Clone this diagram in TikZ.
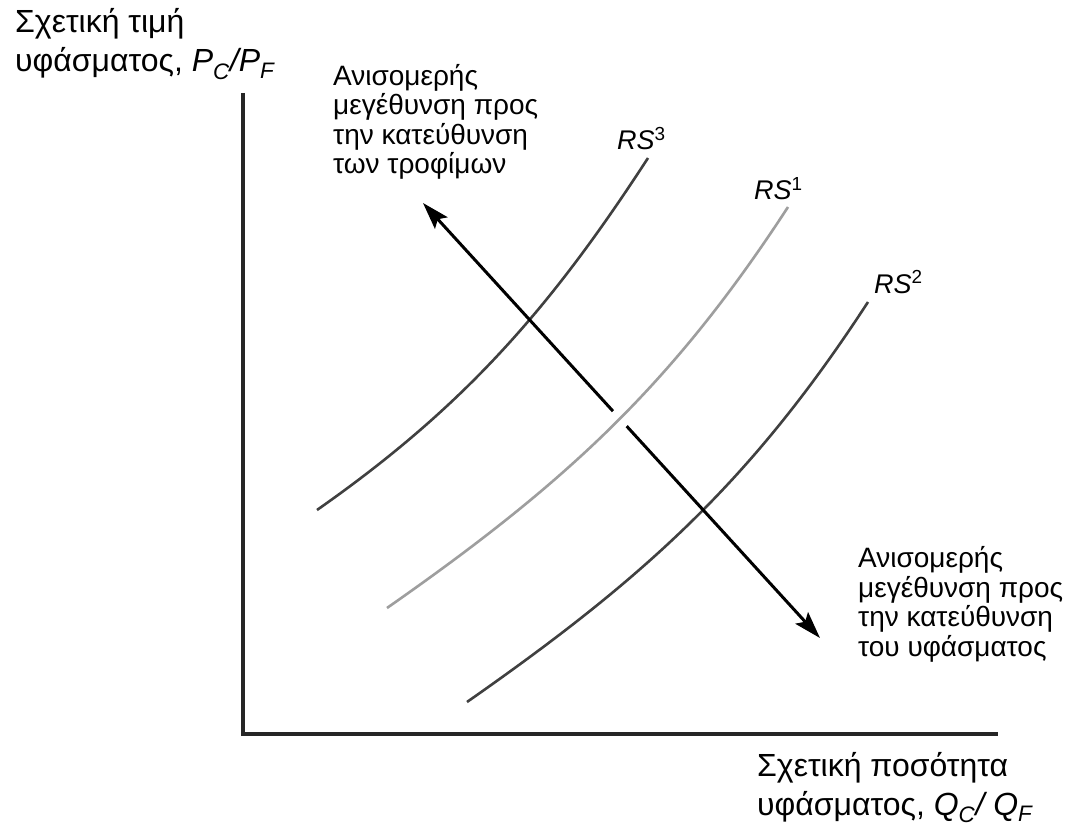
\documentclass[tikz,border=0pt]{standalone}
\usepackage{fontspec}
\setmainfont{Liberation Sans}
\usetikzlibrary{arrows.meta}

\begin{document}
\begin{tikzpicture}[x=1pt, y=-1pt,
  axis/.style={line width=3.4pt, black!85},
  rsdark/.style={line width=2.6pt, black!75},
  rslight/.style={line width=2.6pt, black!38},
  halo/.style={line width=20pt, white},
  growth/.style={{Stealth[length=27pt,width=17pt,inset=5pt]}-{Stealth[length=27pt,width=17pt,inset=5pt]}, line width=3pt},
  axtext/.style={align=left, inner sep=0pt, font=\fontsize{32}{39}\selectfont},
  note/.style={align=left, inner sep=0pt, font=\fontsize{28}{29.5}\selectfont},
  rstext/.style={inner sep=0pt, font=\fontsize{27}{30}\selectfont}
]
  \useasboundingbox (0,0) rectangle (1072,832);

  % axes
  \coordinate (ytop) at (243,93);
  \coordinate (origin) at (243,734);
  \coordinate (xend) at (998,734);
  \draw[axis] (ytop) -- (origin) -- (xend);

  % axis titles (anchored on the last line)
  \node[axtext, anchor=base west] (ytitle) at (15,72)
    {Σχετική τιμή\\υφάσματος, \textit{P}\textsubscript{\textit{C}}\textit{/P}\textsubscript{\textit{F}}};
  \node[axtext, anchor=base west] (xtitle) at (757,815)
    {Σχετική ποσότητα\\υφάσματος, \textit{Q}\textsubscript{\textit{C}}\textit{/ Q}\textsubscript{\textit{F}}};

  % relative supply curves
  \coordinate (rs3a) at (317,510);
  \coordinate (rs3b) at (648,158);
  \coordinate (rs1a) at (387,608);
  \coordinate (rs1b) at (788,207);
  \coordinate (rs2a) at (467,702);
  \coordinate (rs2b) at (868,302);
  \draw[rsdark] (rs3a) .. controls (464,407) and (550,309) .. (rs3b);
  \draw[rsdark] (rs2a) .. controls (643,579) and (751,482) .. (rs2b);

  % biased growth arrow
  \coordinate (foodend) at (423,203);
  \coordinate (clothend) at (820,638);
  \draw[growth] (foodend) -- (clothend);

  % RS1 passes over the arrow
  \draw[halo] (rs1a) .. controls (563,485) and (671,387) .. (rs1b);
  \draw[rslight] (rs1a) .. controls (563,485) and (671,387) .. (rs1b);

  \node[rstext, anchor=base west] (rs3lbl) at (617,150) {\textit{RS}\textsuperscript{3}};
  \node[rstext, anchor=base west] (rs1lbl) at (754,200) {\textit{RS}\textsuperscript{1}};
  \node[rstext, anchor=base west] (rs2lbl) at (874,293) {\textit{RS}\textsuperscript{2}};

  % arrow notes (anchored on the last line)
  \node[note, anchor=base west] (foodnote) at (333,174)
    {Ανισομερής\\μεγέθυνση προς\\την κατεύθυνση\\των τροφίμων};
  \node[note, anchor=base west] (clothnote) at (858,656)
    {Ανισομερής\\μεγέθυνση προς\\την κατεύθυνση\\του υφάσματος};
\end{tikzpicture}
\end{document}
